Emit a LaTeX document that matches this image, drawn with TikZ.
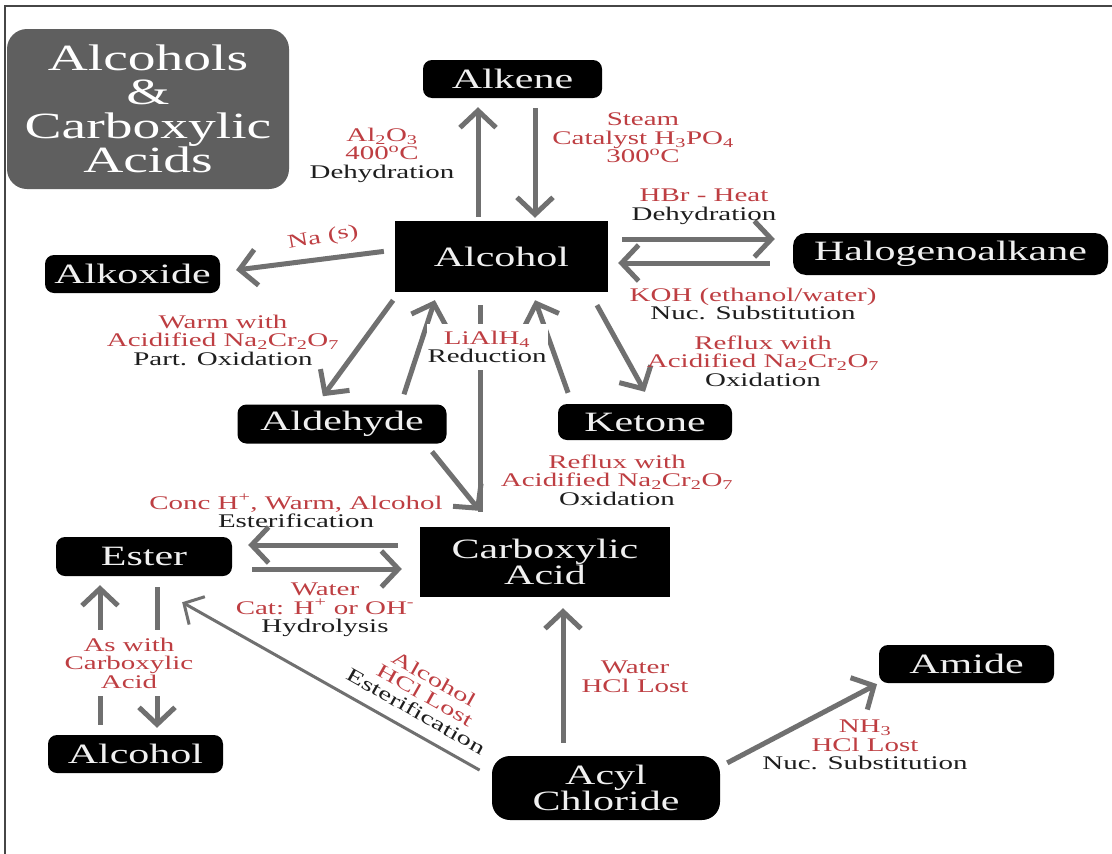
\documentclass[tikz,border=0pt]{standalone}
\usepackage{fontspec}
\setmainfont{Liberation Serif}[FakeStretch=1.5]
\usetikzlibrary{arrows.meta}
\definecolor{arrowgray}{RGB}{112,112,112}
\definecolor{titlebgcolor}{RGB}{95,95,95}
\definecolor{condred}{RGB}{190,62,66}
\definecolor{condblack}{RGB}{30,30,30}
\definecolor{framecolor}{RGB}{70,70,70}
\colorlet{boxfgcolor}{white!94!black}
\newcommand{\boxfont}{\fontsize{28}{25}\selectfont}
\newcommand{\condfont}{\fontsize{19.3}{18.5}\selectfont}
\newcommand{\titlefont}{\fontsize{37}{34}\selectfont}
\newcommand{\reagent}[1]{\textcolor{condred}{#1}}
\tikzset{
        chem/.style={fill=black, text=boxfgcolor, rounded corners=9pt, inner sep=0pt, font=\boxfont, align=center},
        sqbox/.style={chem, rounded corners=0pt},
        titlebox/.style={fill=titlebgcolor, text=white, rounded corners=20pt, inner sep=0pt, font=\titlefont, align=center},
        cond/.style={text=condblack, font=\condfont, align=center, inner sep=1pt},
        gap/.style={cond, fill=white, inner ysep=8pt},
        bar/.style={draw=arrowgray, line width=5pt},
        arr/.style={bar, -{Straight Barb[length=17pt, width=36pt]}},
        thinarr/.style={draw=arrowgray, line width=3pt, -{Straight Barb[length=15pt, width=32pt]}}
}

\begin{document}
\begin{tikzpicture}[x=1pt, y=-1pt]
        \useasboundingbox[fill=white] (0,0) rectangle (1112,854);
        \draw[line width=1.5pt, draw=framecolor] (1112,6) -- (5,6) -- (5,854);

        \node (title) at (148,109) [titlebox, minimum width=282pt, minimum height=160pt] {Alcohols\\ \&\\ Carboxylic\\ Acids};

        \node (alkene)   at (512.5,79)    [chem, minimum width=179pt, minimum height=38pt] {Alkene};
        \node (alcohol)  at (501.5,256.5) [sqbox, minimum width=213pt, minimum height=71pt] {Alcohol};
        \node (halo)     at (950.5,254)   [chem, minimum width=315pt, minimum height=42pt, rounded corners=13pt] {Halogenoalkane};
        \node (alkoxide) at (132.5,274)   [chem, minimum width=175pt, minimum height=38pt] {Alkoxide};
        \node (aldehyde) at (342,424)     [chem, minimum width=209pt, minimum height=39pt] {Aldehyde};
        \node (ketone)   at (645,422)     [chem, minimum width=174pt, minimum height=36pt] {Ketone};
        \node (acid)     at (545,562)     [sqbox, minimum width=250pt, minimum height=70pt] {Carboxylic\\ Acid};
        \node (ester)    at (144,556.5)   [chem, minimum width=176pt, minimum height=39pt] {Ester};
        \node (alcoholb) at (135.5,754)   [chem, minimum width=175pt, minimum height=38pt] {Alcohol};
        \node (acyl)     at (606,788)     [chem, minimum width=228pt, minimum height=64pt, rounded corners=18pt] {Acyl\\ Chloride};
        \node (amide)    at (966.5,664)   [chem, minimum width=175pt, minimum height=38pt] {Amide};

        \draw[arr, shorten <=4pt, shorten >=9pt] ([xshift=-23.5pt]alcohol.north) -- ([xshift=-34.5pt]alkene.south);
        \draw[arr, shorten <=10pt, shorten >=3pt] ([xshift=22.5pt]alkene.south) -- ([xshift=33.5pt]alcohol.north);
        \draw[arr, shorten <=14pt, shorten >=18pt] ([yshift=17.5pt]alcohol.east) -- ([yshift=15pt]halo.west);
        \draw[arr, shorten <=23pt, shorten >=10pt] ([yshift=-9pt]halo.west) -- ([yshift=-6.5pt]alcohol.east);
        \draw[arr, shorten <=11pt, shorten >=16pt] ([yshift=6.5pt]alcohol.west) -- ([yshift=2pt]alkoxide.east);
        \draw[arr, shorten <=10pt, shorten >=10pt] ([xshift=-102.5pt]alcohol.south) -- ([xshift=-25pt]aldehyde.north);
        \draw[arr, shorten <=10.5pt, shorten >=8.4pt] ([xshift=58.7pt]aldehyde.north) -- ([xshift=-64pt]alcohol.south);
        \draw[arr, shorten <=14.8pt, shorten >=13.7pt] ([xshift=88.3pt]alcohol.south) -- ([xshift=6.6pt]ketone.north);
        \draw[arr, shorten <=11.7pt, shorten >=8.5pt] ([xshift=-73pt]ketone.north) -- ([xshift=30.7pt]alcohol.south);
        \draw[arr, shorten <=10.2pt, shorten >=20.5pt] ([xshift=83.6pt]aldehyde.south) -- ([xshift=-52.2pt]acid.north);
        \draw[bar, shorten <=15pt, shorten >=13pt] ([xshift=-65pt]acid.north) -- ([xshift=-21.5pt]alcohol.south);
        \draw[arr, shorten <=22pt, shorten >=16pt] ([yshift=17pt]acid.west) -- ([yshift=11.5pt]ester.east);
        \draw[arr, shorten <=20pt, shorten >=18pt] ([yshift=-12.5pt]ester.east) -- ([yshift=-7pt]acid.west);
        \draw[arr, shorten <=10pt, shorten >=9pt] ([xshift=-35.5pt]alcoholb.north) -- ([xshift=-44pt]ester.south);
        \draw[arr, shorten <=11pt, shorten >=7pt] ([xshift=13pt]ester.south) -- ([xshift=21.5pt]alcoholb.north);
        \draw[arr, shorten <=13pt, shorten >=11pt] ([xshift=-43pt]acyl.north) -- ([xshift=18pt]acid.south);
        \draw[arr, shorten <=8pt, shorten >=2pt] ([yshift=21.4pt]acyl.east) -- (amide.south west);
        \draw[thinarr, shorten <=14pt, shorten >=53pt] ([yshift=11pt]acyl.west) -- ([xshift=-8pt]ester.south);

        \node (dehydA)  at (382,155) [cond] {\reagent{Al\textsubscript{2}O\textsubscript{3}}\\ \reagent{400\textsuperscript{o}C}\\ Dehydration};
        \node (hydra)   at (643,138) [cond] {\reagent{Steam}\\ \reagent{Catalyst H\textsubscript{3}PO\textsubscript{4}}\\ \reagent{300\textsuperscript{o}C}};
        \node (hbr)     at (704,207) [cond] {\reagent{HBr - Heat}\\ Dehydration};
        \node (koh)     at (753,304) [cond] {\reagent{KOH (ethanol/water)}\\ Nuc. Substitution};
        \node (na)      at (323,238) [cond, rotate=10] {\reagent{Na (s)}};
        \node (partox)  at (223,340) [cond] {\reagent{Warm with}\\ \reagent{Acidified Na\textsubscript{2}Cr\textsubscript{2}O\textsubscript{7}}\\ Part. Oxidation};
        \node (lialh)   at (487,347) [gap, inner ysep=7pt] {\reagent{LiAlH\textsubscript{4}}\\ Reduction};
        \node (ketox)   at (763,361) [cond] {\reagent{Reflux with}\\ \reagent{Acidified Na\textsubscript{2}Cr\textsubscript{2}O\textsubscript{7}}\\ Oxidation};
        \node (acidox)  at (617,480) [cond] {\reagent{Reflux with}\\ \reagent{Acidified Na\textsubscript{2}Cr\textsubscript{2}O\textsubscript{7}}\\ Oxidation};
        \node (esterif) at (296,511) [cond] {\reagent{Conc H\textsuperscript{+}, Warm, Alcohol}\\ Esterification};
        \node (hydrol)  at (325,610) [cond] {\reagent{Water}\\ \reagent{Cat: H\textsuperscript{+} or OH\textsuperscript{-}}\\ Hydrolysis};
        \node (aswith)  at (129,663) [gap] {\reagent{As with}\\ \reagent{Carboxylic}\\ \reagent{Acid}};
        \node (acylest) at (425,695) [cond, rotate=-29.4] {\reagent{Alcohol}\\ \reagent{HCl Lost}\\ Esterification};
        \node (hcllost) at (635,677) [cond] {\reagent{Water}\\ \reagent{HCl Lost}};
        \node (ammonia) at (865,745) [cond] {\reagent{NH\textsubscript{3}}\\ \reagent{HCl Lost}\\ Nuc. Substitution};
\end{tikzpicture}
\end{document}
